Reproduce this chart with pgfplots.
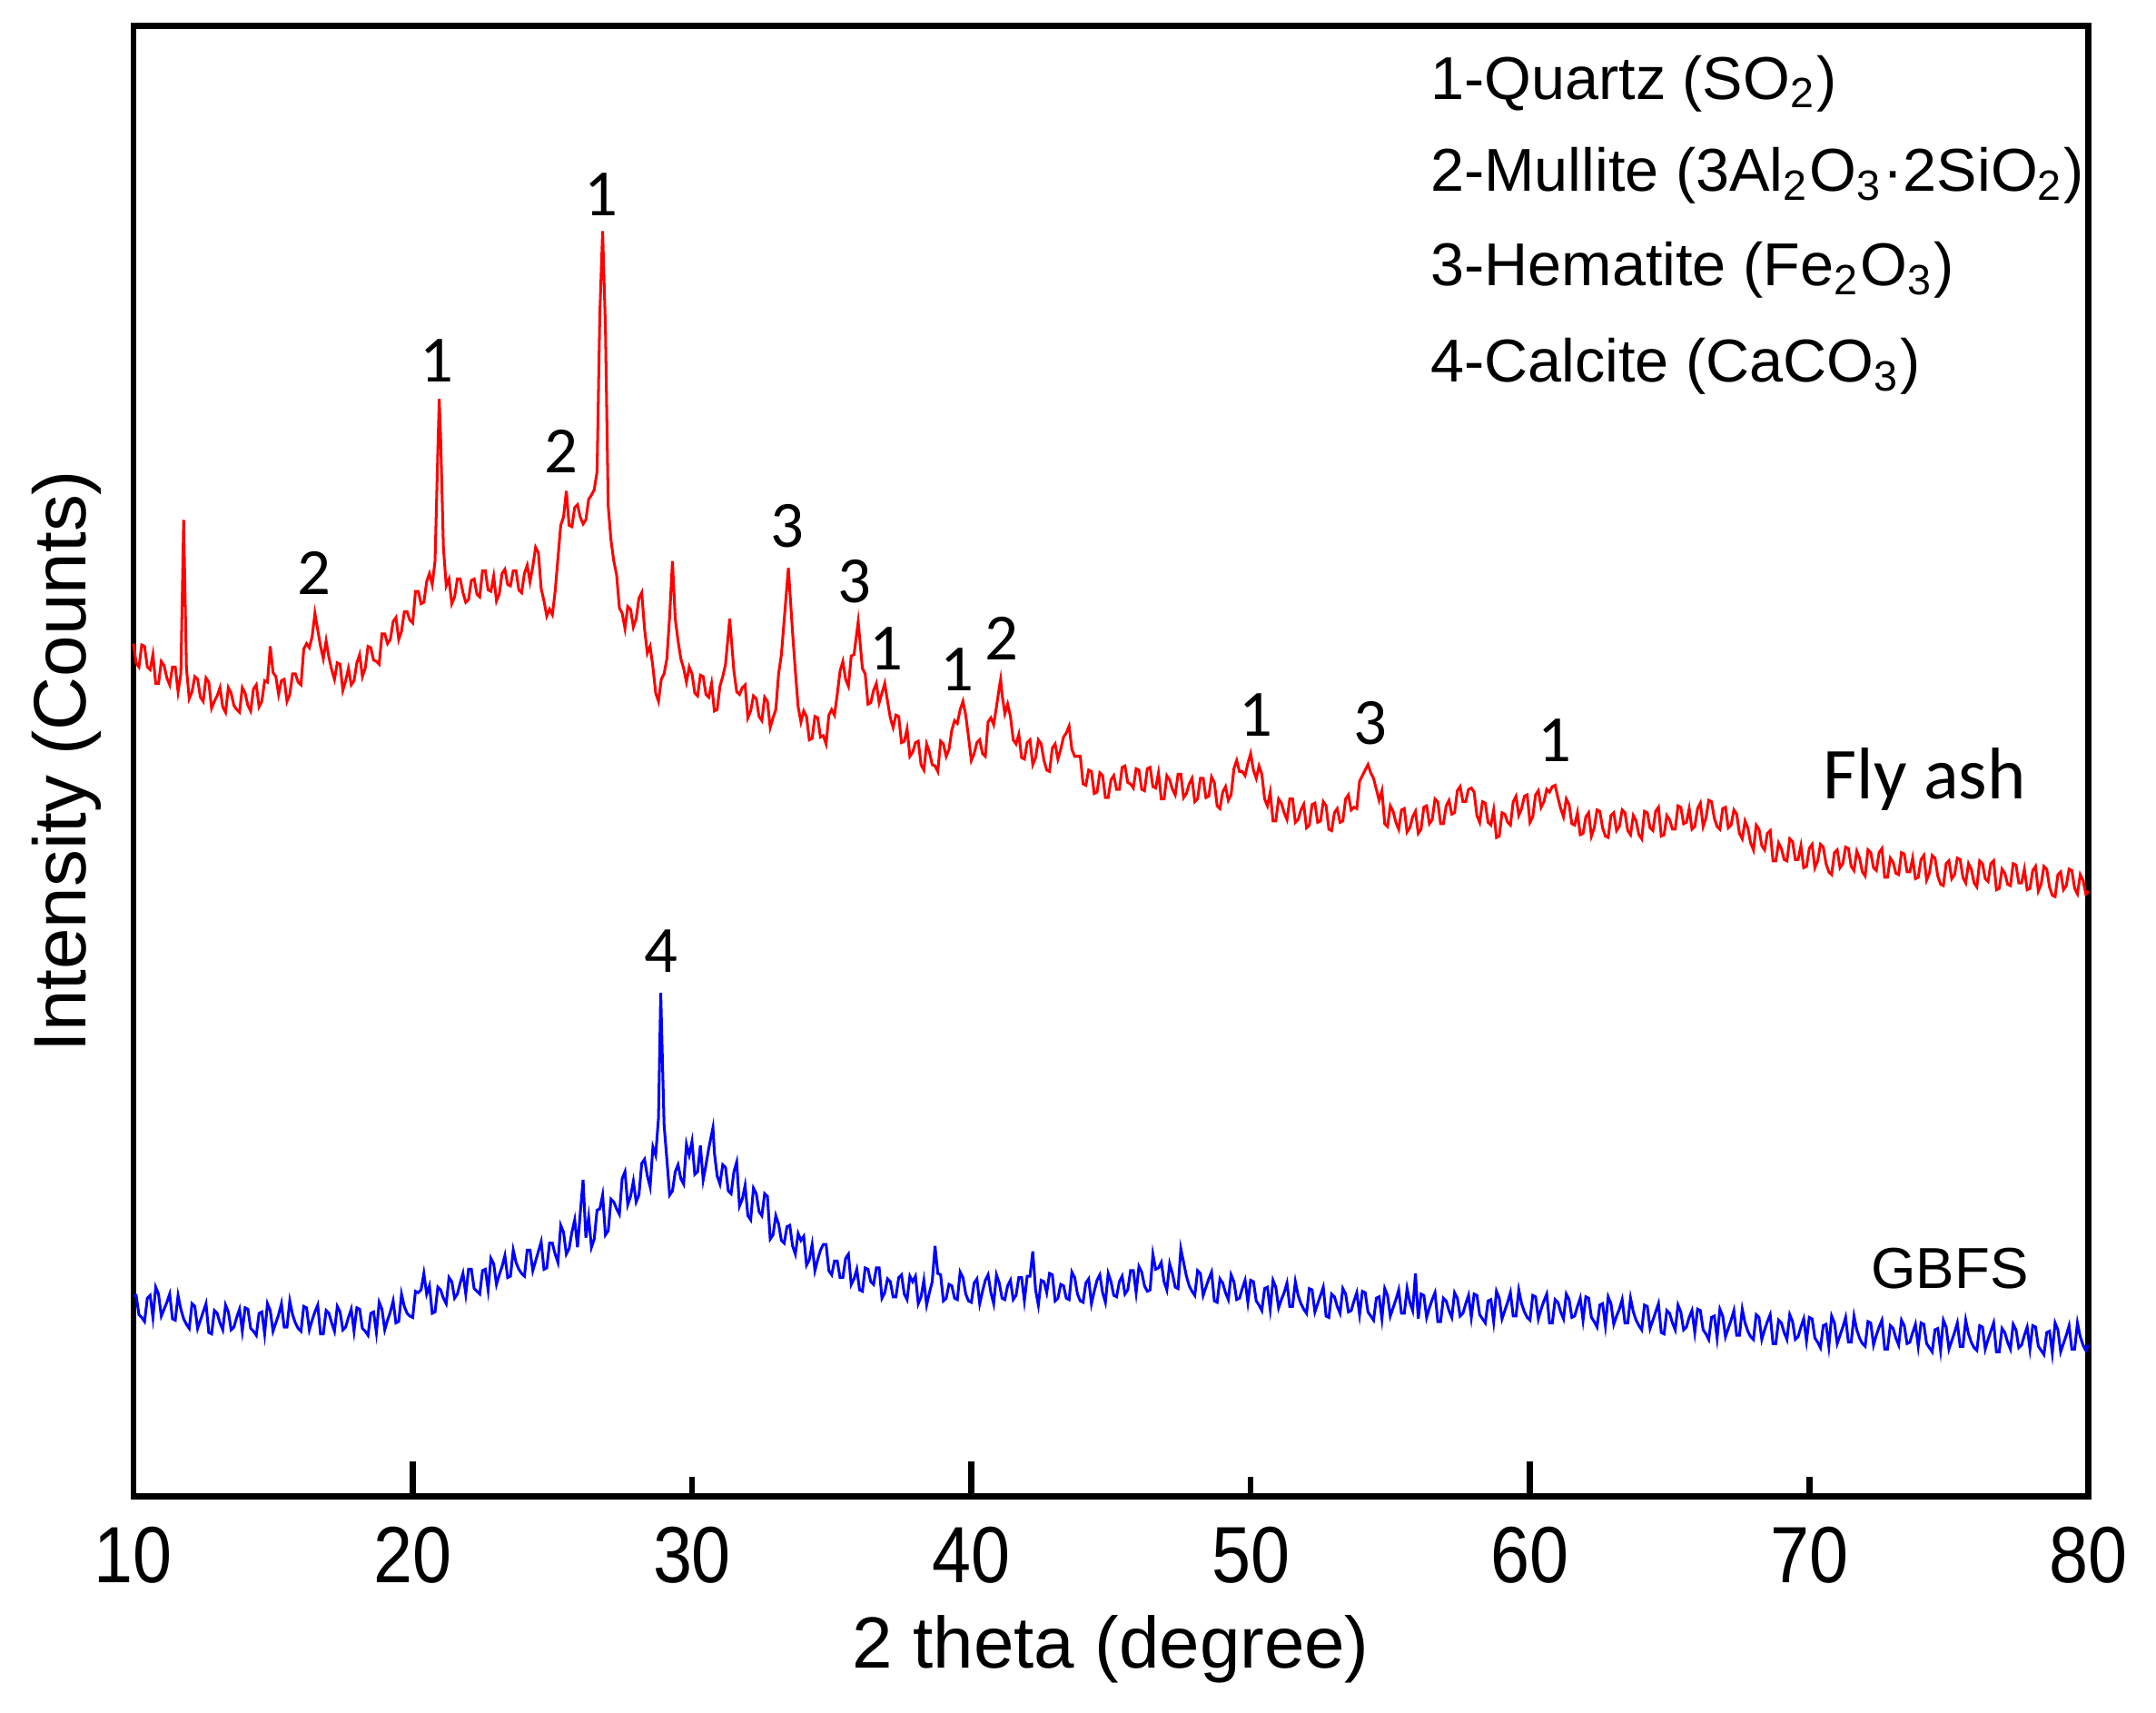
\documentclass[border=0pt]{standalone}
\usepackage{pgfplots}
\pgfplotsset{compat=1.18}
\usepackage{fontspec}
\setmainfont{Liberation Sans}
\newfontfamily\carlito{Carlito}
\definecolor{xrdred}{RGB}{255,0,0}
\definecolor{xrdblue}{RGB}{0,0,255}
\begin{document}
\begin{tikzpicture}
\begin{axis}[
  name=ax,
  scale only axis,
  width=355.5pt, height=267.25pt,
  xmin=10, xmax=80, ymin=0, ymax=1069,
  ytick=\empty,
  xtick={10,20,...,80},
  major tick length=0pt,
  minor xtick={30,50,70},
  minor tick length=3.6pt,
  extra x ticks={20,40,60},
  extra x tick labels={},
  extra x tick style={major tick length=6.35pt},
  tick align=inside,
  xtick pos=bottom,
  axis line style={line width=1.1pt},
  every tick/.style={line width=1.1pt, black},
  every minor tick/.style={line width=1.1pt, black},
  xticklabel={\scalebox{0.88}[1]{\pgfmathprintnumber[assume math mode=true]{\tick}}},
  xticklabel style={font=\fontsize{14.5}{14.5}\selectfont, anchor=base, yshift=-15.75pt, inner sep=0pt},
  clip=false,
]
\addplot[color=xrdred, line width=0.5pt] coordinates {
(10.0,620)(10.1,606)(10.2,603)(10.3,619)(10.4,618)(10.5,603)(10.6,601)(10.7,612)(10.8,591)(10.9,591)(11.0,607)(11.1,604)(11.2,595)(11.3,590)(11.4,603)(11.5,603)(11.6,585)(11.7,598)(11.8,710)(11.9,602)(12.0,580)(12.1,585)(12.2,596)(12.3,594)(12.4,581)(12.5,578)(12.6,595)(12.7,592)(12.8,573)(12.9,578)(13.0,582)(13.1,588)(13.2,574)(13.3,570)(13.4,588)(13.5,584)(13.6,575)(13.7,572)(13.8,570)(13.9,588)(14.0,584)(14.1,575)(14.2,571)(14.3,587)(14.4,590)(14.5,574)(14.6,578)(14.7,593)(14.8,592)(14.9,618)(15.0,599)(15.1,596)(15.2,583)(15.3,593)(15.4,594)(15.5,578)(15.6,583)(15.7,598)(15.8,598)(15.9,592)(16.0,590)(16.1,616)(16.2,620)(16.3,617)(16.4,625)(16.5,642)(16.6,630)(16.7,618)(16.8,609)(16.9,622)(17.0,610)(17.1,601)(17.2,594)(17.3,606)(17.4,605)(17.5,586)(17.6,593)(17.7,602)(17.8,590)(17.9,593)(18.0,606)(18.1,612)(18.2,596)(18.3,602)(18.4,618)(18.5,617)(18.6,608)(18.7,607)(18.8,605)(18.9,627)(19.0,627)(19.1,620)(19.2,623)(19.3,636)(19.4,639)(19.5,623)(19.6,629)(19.7,643)(19.8,643)(19.9,637)(20.0,635)(20.1,658)(20.2,658)(20.3,649)(20.4,650)(20.5,665)(20.6,671)(20.7,663)(20.8,680)(20.9,760)(20.95,798)(21.0,770)(21.1,690)(21.2,662)(21.3,667)(21.4,649)(21.5,654)(21.6,667)(21.7,667)(21.8,657)(21.9,650)(22.0,652)(22.1,666)(22.2,667)(22.3,656)(22.4,654)(22.5,673)(22.6,673)(22.7,659)(22.8,658)(22.9,669)(23.0,651)(23.1,656)(23.2,671)(23.3,674)(23.4,663)(23.5,662)(23.6,673)(23.7,673)(23.8,659)(23.9,657)(24.0,671)(24.1,677)(24.2,665)(24.3,676)(24.4,690)(24.5,686)(24.6,660)(24.7,651)(24.8,640)(24.9,645)(25.0,641)(25.1,658)(25.2,682)(25.3,706)(25.4,712)(25.5,731)(25.6,706)(25.7,705)(25.8,719)(25.9,721)(26.0,712)(26.1,707)(26.2,710)(26.3,725)(26.4,728)(26.5,732)(26.6,745)(26.7,860)(26.8,920)(26.9,850)(27.0,720)(27.1,695)(27.2,680)(27.3,670)(27.4,646)(27.5,642)(27.6,631)(27.7,647)(27.8,645)(27.9,632)(28.0,638)(28.1,653)(28.2,657)(28.3,631)(28.4,613)(28.5,618)(28.6,603)(28.7,584)(28.8,578)(28.9,594)(29.0,598)(29.1,609)(29.2,640)(29.3,680)(29.4,638)(29.5,622)(29.6,609)(29.7,602)(29.8,592)(29.9,603)(30.0,598)(30.1,584)(30.2,582)(30.3,597)(30.4,596)(30.5,583)(30.6,581)(30.7,591)(30.8,571)(30.9,572)(31.0,589)(31.1,596)(31.2,605)(31.35,638)(31.5,600)(31.6,585)(31.7,583)(31.8,588)(31.9,590)(32.0,566)(32.1,571)(32.2,582)(32.3,580)(32.4,567)(32.5,564)(32.6,581)(32.7,578)(32.8,559)(32.9,566)(33.0,572)(33.1,598)(33.2,612)(33.45,675)(33.6,628)(33.7,600)(33.8,574)(33.9,563)(34.0,571)(34.1,567)(34.2,550)(34.3,551)(34.4,567)(34.5,566)(34.6,552)(34.7,553)(34.8,547)(34.9,568)(35.0,572)(35.1,568)(35.2,583)(35.3,600)(35.4,607)(35.5,594)(35.6,589)(35.7,611)(35.8,612)(35.95,636)(36.1,602)(36.2,598)(36.3,576)(36.4,577)(36.5,586)(36.6,591)(36.7,577)(36.8,584)(36.9,591)(37.0,578)(37.1,566)(37.2,559)(37.3,568)(37.4,567)(37.5,548)(37.6,549)(37.7,558)(37.8,538)(37.9,541)(38.0,548)(38.1,549)(38.2,532)(38.3,528)(38.4,547)(38.5,541)(38.6,532)(38.7,531)(38.8,527)(38.9,549)(39.0,547)(39.1,538)(39.2,543)(39.3,557)(39.4,564)(39.5,562)(39.6,572)(39.7,578)(39.8,568)(39.9,552)(40.0,535)(40.1,540)(40.2,548)(40.3,550)(40.4,540)(40.5,538)(40.6,563)(40.7,566)(40.8,561)(40.9,574)(41.0,588)(41.05,594)(41.1,583)(41.2,569)(41.3,576)(41.4,567)(41.5,550)(41.6,547)(41.7,554)(41.8,537)(41.9,536)(42.0,548)(42.1,550)(42.2,532)(42.3,537)(42.4,550)(42.5,547)(42.6,535)(42.7,528)(42.8,527)(42.9,544)(43.0,547)(43.1,536)(43.2,543)(43.3,552)(43.4,555)(43.5,560)(43.6,543)(43.7,538)(43.8,538)(43.9,538)(44.0,518)(44.1,517)(44.2,528)(44.3,527)(44.4,511)(44.5,512)(44.6,526)(44.7,524)(44.8,508)(44.9,508)(45.0,521)(45.1,524)(45.2,514)(45.3,514)(45.4,530)(45.5,531)(45.6,519)(45.7,518)(45.8,515)(45.9,529)(46.0,528)(46.1,514)(46.2,513)(46.3,529)(46.4,530)(46.5,516)(46.6,515)(46.7,526)(46.8,507)(46.9,507)(47.0,524)(47.1,521)(47.2,514)(47.3,510)(47.4,525)(47.5,525)(47.6,508)(47.7,511)(47.8,518)(47.9,522)(48.0,505)(48.1,507)(48.2,522)(48.3,522)(48.4,508)(48.5,509)(48.6,523)(48.7,519)(48.8,502)(48.9,500)(49.0,512)(49.1,516)(49.2,506)(49.3,510)(49.4,529)(49.5,535)(49.6,527)(49.7,527)(49.8,524)(49.9,533)(50.0,540)(50.1,528)(50.2,522)(50.3,531)(50.4,525)(50.5,507)(50.6,502)(50.7,512)(50.8,491)(50.9,491)(51.0,507)(51.1,504)(51.2,497)(51.3,492)(51.4,507)(51.5,507)(51.6,490)(51.7,492)(51.8,499)(51.9,503)(52.0,486)(52.1,488)(52.2,503)(52.3,504)(52.4,490)(52.5,491)(52.6,505)(52.7,502)(52.8,485)(52.9,484)(53.0,497)(53.1,500)(53.2,490)(53.3,491)(53.4,507)(53.5,510)(53.6,499)(53.7,501)(53.8,500)(53.9,520)(54.0,524)(54.1,528)(54.2,532)(54.3,526)(54.4,522)(54.5,514)(54.6,506)(54.7,513)(54.8,489)(54.9,487)(55.0,502)(55.1,498)(55.2,490)(55.3,485)(55.4,499)(55.5,500)(55.6,483)(55.7,486)(55.8,494)(55.9,498)(56.0,482)(56.1,485)(56.2,501)(56.3,502)(56.4,489)(56.5,492)(56.6,507)(56.7,505)(56.8,489)(56.9,489)(57.0,502)(57.1,506)(57.2,496)(57.3,497)(57.4,513)(57.5,516)(57.6,505)(57.7,505)(57.8,514)(57.9,515)(58.0,512)(58.1,495)(58.2,490)(58.3,505)(58.4,504)(58.5,490)(58.6,488)(58.7,499)(58.8,479)(58.9,480)(59.0,497)(59.1,496)(59.2,490)(59.3,488)(59.4,505)(59.5,509)(59.6,495)(59.7,500)(59.8,509)(59.9,510)(60.0,490)(60.1,494)(60.2,510)(60.3,513)(60.4,501)(60.5,505)(60.6,514)(60.7,512)(60.8,516)(60.9,517)(61.0,508)(61.1,500)(61.2,494)(61.3,507)(61.4,503)(61.5,489)(61.6,488)(61.7,497)(61.8,481)(61.9,482)(62.0,494)(62.1,497)(62.2,480)(62.3,486)(62.4,499)(62.5,498)(62.6,486)(62.7,480)(62.8,479)(62.9,495)(63.0,497)(63.1,484)(63.2,487)(63.3,499)(63.4,497)(63.5,484)(63.6,481)(63.7,495)(63.8,491)(63.9,481)(64.0,478)(64.1,498)(64.2,497)(64.3,486)(64.4,484)(64.5,498)(64.6,501)(64.7,480)(64.8,481)(64.9,495)(65.0,492)(65.1,485)(65.2,485)(65.3,502)(65.4,501)(65.5,489)(65.6,490)(65.7,500)(65.8,485)(65.9,487)(66.0,500)(66.1,504)(66.2,487)(66.3,493)(66.4,506)(66.5,505)(66.6,493)(66.7,487)(66.8,485)(66.9,500)(67.0,501)(67.1,486)(67.2,488)(67.3,499)(67.4,496)(67.5,482)(67.6,478)(67.7,491)(67.8,486)(67.9,475)(68.0,470)(68.1,488)(68.2,485)(68.3,473)(68.4,470)(68.5,482)(68.6,484)(68.7,462)(68.8,462)(68.9,475)(69.0,471)(69.1,463)(69.2,462)(69.3,478)(69.4,476)(69.5,463)(69.6,463)(69.7,473)(69.8,457)(69.9,458)(70.0,471)(70.1,474)(70.2,457)(70.3,462)(70.4,474)(70.5,472)(70.6,460)(70.7,454)(70.8,452)(70.9,468)(71.0,470)(71.1,457)(71.2,460)(71.3,472)(71.4,471)(71.5,458)(71.6,455)(71.7,469)(71.8,464)(71.9,454)(72.0,451)(72.1,470)(72.2,468)(72.3,457)(72.4,455)(72.5,468)(72.6,471)(72.7,450)(72.8,450)(72.9,464)(73.0,461)(73.1,453)(73.2,452)(73.3,468)(73.4,467)(73.5,454)(73.6,454)(73.7,464)(73.8,449)(73.9,450)(74.0,463)(74.1,466)(74.2,448)(74.3,453)(74.4,466)(74.5,464)(74.6,451)(74.7,445)(74.8,444)(74.9,460)(75.0,462)(75.1,449)(75.2,452)(75.3,464)(75.4,463)(75.5,450)(75.6,446)(75.7,460)(75.8,456)(75.9,446)(76.0,443)(76.1,462)(76.2,460)(76.3,449)(76.4,447)(76.5,460)(76.6,462)(76.7,441)(76.8,442)(76.9,456)(77.0,453)(77.1,445)(77.2,444)(77.3,460)(77.4,459)(77.5,446)(77.6,446)(77.7,456)(77.8,441)(77.9,442)(78.0,455)(78.1,458)(78.2,440)(78.3,445)(78.4,458)(78.5,456)(78.6,443)(78.7,437)(78.8,436)(78.9,452)(79.0,454)(79.1,441)(79.2,444)(79.3,456)(79.4,455)(79.5,442)(79.6,438)(79.7,452)(79.8,448)(79.9,438)(80.0,440)
};
\addplot[color=xrdblue, line width=0.5pt] coordinates {
(10.0,146)(10.1,146)(10.2,132)(10.3,130)(10.4,127)(10.5,144)(10.6,146)(10.7,130)(10.8,152)(10.9,147)(11.0,131)(11.1,136)(11.2,141)(11.3,147)(11.4,129)(11.5,128)(11.6,146)(11.7,136)(11.8,129)(11.9,125)(12.0,122)(12.1,140)(12.2,138)(12.3,122)(12.4,128)(12.5,134)(12.6,140)(12.7,119)(12.8,118)(12.9,135)(13.0,133)(13.1,126)(13.2,121)(13.3,139)(13.4,134)(13.5,121)(13.6,123)(13.7,130)(13.8,136)(13.9,120)(14.0,137)(14.1,136)(14.2,122)(14.3,120)(14.4,117)(14.5,133)(14.6,134)(14.7,118)(14.8,140)(14.9,135)(15.0,120)(15.1,126)(15.2,132)(15.3,140)(15.4,123)(15.5,123)(15.6,142)(15.7,132)(15.8,126)(15.9,122)(16.0,120)(16.1,138)(16.2,137)(16.3,121)(16.4,128)(16.5,134)(16.6,139)(16.7,118)(16.8,118)(16.9,135)(17.0,133)(17.1,126)(17.2,120)(17.3,138)(17.4,134)(17.5,121)(17.6,123)(17.7,130)(17.8,136)(17.9,120)(18.0,137)(18.1,136)(18.2,122)(18.3,120)(18.4,117)(18.5,133)(18.6,134)(18.7,119)(18.8,141)(18.9,136)(19.0,121)(19.1,128)(19.2,134)(19.3,142)(19.4,126)(19.5,127)(19.6,147)(19.7,138)(19.8,133)(19.9,131)(20.0,130)(20.1,149)(20.2,148)(20.3,150)(20.4,162)(20.5,147)(20.6,153)(20.7,133)(20.8,134)(20.9,152)(21.0,150)(21.1,144)(21.2,140)(21.3,159)(21.4,156)(21.5,144)(21.6,147)(21.7,155)(21.8,162)(21.9,147)(22.0,165)(22.1,165)(22.2,151)(22.3,149)(22.4,147)(22.5,164)(22.6,165)(22.7,150)(22.8,173)(22.9,169)(23.0,154)(23.1,161)(23.2,167)(23.3,175)(23.4,159)(23.5,160)(23.6,179)(23.7,170)(23.8,165)(23.9,162)(24.0,160)(24.1,179)(24.2,179)(24.3,164)(24.4,171)(24.5,178)(24.6,185)(24.7,165)(24.8,166)(24.9,184)(25.0,184)(25.1,176)(25.2,170)(25.3,197)(25.4,192)(25.5,176)(25.6,180)(25.7,192)(25.8,201)(25.9,181)(26.0,206)(26.1,230)(26.2,188)(26.3,203)(26.4,181)(26.5,187)(26.6,208)(26.7,209)(26.8,219)(26.9,190)(27.0,193)(27.1,216)(27.2,214)(27.3,209)(27.4,205)(27.5,231)(27.6,236)(27.7,212)(27.8,218)(27.9,229)(28.0,214)(28.1,219)(28.2,242)(28.3,245)(28.4,233)(28.5,225)(28.6,254)(28.7,248)(28.8,275)(28.88,366)(29.0,270)(29.1,245)(29.2,219)(29.3,222)(29.4,236)(29.5,241)(29.6,231)(29.7,227)(29.8,256)(29.9,248)(30.0,258)(30.1,234)(30.2,236)(30.3,255)(30.4,230)(30.5,241)(30.6,253)(30.75,268)(30.8,250)(30.9,233)(31.0,227)(31.1,241)(31.2,239)(31.3,222)(31.4,220)(31.5,236)(31.6,243)(31.7,211)(31.8,216)(31.9,226)(32.0,204)(32.1,201)(32.2,224)(32.3,220)(32.4,207)(32.5,204)(32.6,220)(32.7,218)(32.8,187)(32.9,190)(33.0,204)(33.1,198)(33.2,186)(33.3,184)(33.4,196)(33.5,197)(33.6,182)(33.7,176)(33.8,191)(33.9,186)(34.0,189)(34.1,168)(34.2,172)(34.3,183)(34.4,164)(34.5,172)(34.6,179)(34.7,183)(34.8,183)(34.9,164)(35.0,161)(35.1,171)(35.2,171)(35.3,159)(35.4,159)(35.5,173)(35.6,176)(35.7,154)(35.8,158)(35.9,165)(36.0,150)(36.1,149)(36.2,166)(36.3,165)(36.4,156)(36.5,154)(36.6,166)(36.7,166)(36.8,144)(36.9,148)(37.0,158)(37.1,156)(37.2,145)(37.3,145)(37.4,159)(37.5,161)(37.6,147)(37.7,143)(37.8,160)(37.9,156)(38.0,160)(38.1,140)(38.2,145)(38.3,157)(38.4,139)(38.5,148)(38.6,156)(38.7,182)(38.8,162)(38.9,161)(39.0,142)(39.1,144)(39.2,154)(39.3,153)(39.4,144)(39.5,143)(39.6,163)(39.7,159)(39.8,147)(39.9,142)(40.0,141)(40.1,155)(40.2,158)(40.3,140)(40.4,149)(40.5,157)(40.6,161)(40.7,148)(40.8,140)(40.9,161)(41.0,155)(41.1,144)(41.2,143)(41.3,153)(41.4,157)(41.5,143)(41.6,146)(41.7,159)(41.8,159)(41.9,142)(42.0,160)(42.1,160)(42.2,178)(42.3,150)(42.4,139)(42.5,157)(42.6,156)(42.7,148)(42.8,162)(42.9,161)(43.0,142)(43.1,144)(43.2,154)(43.3,153)(43.4,144)(43.5,143)(43.6,163)(43.7,159)(43.8,147)(43.9,142)(44.0,141)(44.1,155)(44.2,158)(44.3,140)(44.4,149)(44.5,157)(44.6,161)(44.7,148)(44.8,141)(44.9,162)(45.0,156)(45.1,146)(45.2,145)(45.3,156)(45.4,160)(45.5,147)(45.6,150)(45.7,164)(45.8,164)(45.9,148)(46.0,167)(46.1,163)(46.2,153)(46.3,149)(46.4,150)(46.5,176)(46.6,165)(46.7,166)(46.8,170)(46.9,156)(47.0,150)(47.1,169)(47.2,162)(47.3,152)(47.4,151)(47.5,180)(47.6,170)(47.7,160)(47.8,153)(47.9,149)(48.0,146)(48.1,164)(48.2,162)(48.3,146)(48.4,152)(48.5,158)(48.6,163)(48.7,142)(48.8,141)(48.9,158)(49.0,155)(49.1,148)(49.2,143)(49.3,161)(49.4,156)(49.5,143)(49.6,144)(49.7,151)(49.8,157)(49.9,141)(50.0,157)(50.1,156)(50.2,142)(50.3,139)(50.4,135)(50.5,151)(50.6,152)(50.7,136)(50.8,157)(50.9,152)(51.0,137)(51.1,143)(51.2,148)(51.3,155)(51.4,138)(51.5,138)(51.6,156)(51.7,146)(51.8,140)(51.9,136)(52.0,133)(52.1,151)(52.2,150)(52.3,134)(52.4,140)(52.5,146)(52.6,152)(52.7,131)(52.8,130)(52.9,147)(53.0,145)(53.1,138)(53.2,133)(53.3,151)(53.4,147)(53.5,134)(53.6,135)(53.7,142)(53.8,148)(53.9,132)(54.0,149)(54.1,148)(54.2,134)(54.3,131)(54.4,128)(54.5,144)(54.6,145)(54.7,129)(54.8,151)(54.9,146)(55.0,131)(55.1,137)(55.2,143)(55.3,150)(55.4,133)(55.5,133)(55.6,151)(55.7,141)(55.8,135)(55.9,162)(56.0,129)(56.1,147)(56.2,146)(56.3,130)(56.4,137)(56.5,143)(56.6,148)(56.7,127)(56.8,127)(56.9,144)(57.0,142)(57.1,135)(57.2,130)(57.3,148)(57.4,144)(57.5,131)(57.6,133)(57.7,140)(57.8,146)(57.9,130)(58.0,147)(58.1,146)(58.2,132)(58.3,129)(58.4,126)(58.5,142)(58.6,143)(58.7,127)(58.8,149)(58.9,144)(59.0,129)(59.1,135)(59.2,141)(59.3,148)(59.4,131)(59.5,131)(59.6,150)(59.7,140)(59.8,134)(59.9,130)(60.0,128)(60.1,146)(60.2,145)(60.3,129)(60.4,136)(60.5,142)(60.6,147)(60.7,126)(60.8,126)(60.9,143)(61.0,141)(61.1,134)(61.2,129)(61.3,147)(61.4,143)(61.5,130)(61.6,131)(61.7,138)(61.8,144)(61.9,128)(62.0,145)(62.1,144)(62.2,130)(62.3,127)(62.4,123)(62.5,139)(62.6,140)(62.7,124)(62.8,145)(62.9,140)(63.0,125)(63.1,131)(63.2,136)(63.3,143)(63.4,126)(63.5,126)(63.6,144)(63.7,134)(63.8,128)(63.9,124)(64.0,121)(64.1,139)(64.2,138)(64.3,122)(64.4,128)(64.5,134)(64.6,140)(64.7,119)(64.8,118)(64.9,135)(65.0,133)(65.1,126)(65.2,121)(65.3,139)(65.4,134)(65.5,121)(65.6,123)(65.7,130)(65.8,135)(65.9,119)(66.0,136)(66.1,135)(66.2,121)(66.3,118)(66.4,114)(66.5,130)(66.6,131)(66.7,115)(66.8,136)(66.9,131)(67.0,116)(67.1,122)(67.2,128)(67.3,135)(67.4,117)(67.5,117)(67.6,136)(67.7,126)(67.8,120)(67.9,116)(68.0,114)(68.1,132)(68.2,130)(68.3,114)(68.4,121)(68.5,127)(68.6,132)(68.7,111)(68.8,111)(68.9,128)(69.0,126)(69.1,119)(69.2,114)(69.3,132)(69.4,127)(69.5,114)(69.6,116)(69.7,123)(69.8,129)(69.9,113)(70.0,130)(70.1,129)(70.2,115)(70.3,112)(70.4,108)(70.5,124)(70.6,125)(70.7,109)(70.8,131)(70.9,126)(71.0,111)(71.1,117)(71.2,123)(71.3,130)(71.4,112)(71.5,112)(71.6,131)(71.7,121)(71.8,115)(71.9,111)(72.0,109)(72.1,127)(72.2,126)(72.3,110)(72.4,117)(72.5,123)(72.6,128)(72.7,107)(72.8,107)(72.9,124)(73.0,122)(73.1,115)(73.2,110)(73.3,128)(73.4,124)(73.5,111)(73.6,112)(73.7,119)(73.8,125)(73.9,109)(74.0,126)(74.1,125)(74.2,111)(74.3,108)(74.4,105)(74.5,121)(74.6,122)(74.7,106)(74.8,128)(74.9,123)(75.0,107)(75.1,113)(75.2,119)(75.3,126)(75.4,109)(75.5,109)(75.6,128)(75.7,118)(75.8,112)(75.9,108)(76.0,106)(76.1,124)(76.2,123)(76.3,107)(76.4,114)(76.5,120)(76.6,126)(76.7,105)(76.8,105)(76.9,122)(77.0,119)(77.1,112)(77.2,107)(77.3,125)(77.4,121)(77.5,108)(77.6,110)(77.7,117)(77.8,123)(77.9,107)(78.0,124)(78.1,123)(78.2,109)(78.3,106)(78.4,103)(78.5,119)(78.6,120)(78.7,104)(78.8,126)(78.9,121)(79.0,105)(79.1,111)(79.2,117)(79.3,124)(79.4,107)(79.5,107)(79.6,126)(79.7,116)(79.8,110)(79.9,106)(80.0,110)
};
% peak labels
\begin{scope}[every node/.style={font=\carlito\fontsize{12}{12}\selectfont, anchor=base, inner sep=0pt}]
\node at (axis cs:26.74,931) {1};
\node at (axis cs:20.85,810) {1};
\node at (axis cs:25.32,744) {2};
\node at (axis cs:16.47,656) {2};
\node at (axis cs:33.40,690) {3};
\node at (axis cs:35.82,650) {3};
\node at (axis cs:36.94,601) {1};
\node at (axis cs:39.50,586) {1};
\node at (axis cs:41.09,608) {2};
\node at (axis cs:50.20,553) {1};
\node at (axis cs:54.29,547) {3};
\node at (axis cs:60.89,534) {1};
\node at (axis cs:28.89,381) {4};
\end{scope}
\node[font=\carlito\fontsize{13.3}{13.3}\selectfont, anchor=base, inner sep=0pt] at (axis cs:74.13,507) {Fly ash};
\node[font=\fontsize{10.5}{10.5}\selectfont, anchor=base, inner sep=0pt] at (axis cs:75.03,151) {GBFS};
% legend text
\begin{scope}[every node/.style={font=\fontsize{11}{11}\selectfont, anchor=base west, inner sep=0pt}]
\node at (axis cs:56.40,1016) {1-Quartz (SO\textsubscript{2})};
\node at (axis cs:56.40,949) {2-Mullite (3Al\textsubscript{2}O\textsubscript{3}·2SiO\textsubscript{2})};
\node at (axis cs:56.40,880) {3-Hematite (Fe\textsubscript{2}O\textsubscript{3})};
\node at (axis cs:56.40,810) {4-Calcite (CaCO\textsubscript{3})};
\end{scope}
\end{axis}
\node[font=\fontsize{13.2}{13.2}\selectfont, anchor=base, inner sep=0pt] at ([yshift=-31.2pt]ax.south) {2 theta (degree)};
\node[font=\fontsize{13.5}{13.5}\selectfont, anchor=base, rotate=90, inner sep=0pt] at ([xshift=-8.6pt]ax.west) {Intensity (Counts)};
\pgfresetboundingbox
\useasboundingbox ([xshift=-24.25pt,yshift=-39.4pt]ax.south west) rectangle ([xshift=12.25pt,yshift=4.75pt]ax.north east);
\end{tikzpicture}
\end{document}
